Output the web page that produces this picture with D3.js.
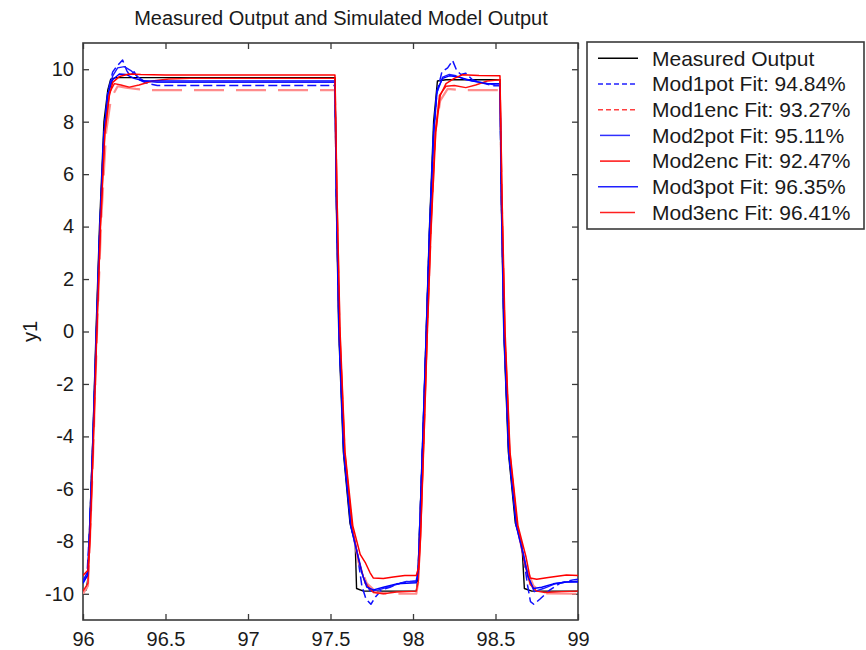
<!DOCTYPE html>
<html>
<head>
<meta charset="utf-8">
<script src="https://cdn.jsdelivr.net/npm/d3@7"></script>
<style>
  html, body { margin: 0; padding: 0; background: #fff; }
  svg text { font-family: "Liberation Sans", Arial, sans-serif; fill: #1a1a1a; }
</style>
</head>
<body>
<svg id="chart" width="866" height="650"></svg>
<script>
// Axis ticks
const xTicks = [96, 96.5, 97, 97.5, 98, 98.5, 99];
const yTicks = [-10, -8, -6, -4, -2, 0, 2, 4, 6, 8, 10];

// Series names and fit percentages
const seriesNames = ["Measured Output", "Mod1pot", "Mod1enc", "Mod2pot", "Mod2enc", "Mod3pot", "Mod3enc"];
const fitValues = [null, 94.84, 93.27, 95.11, 92.47, 96.35, 96.41];

// [time, y1] samples for each output
const measured = [
  [96.000,-9.90],[96.020,-9.85],[96.030,-9.40],[96.037,-8.00],[96.060,-4.00],[96.079,0.00],[96.100,4.00],[96.127,8.00],[96.150,9.20],[96.168,9.62],[96.200,9.68],
  [97.527,9.68],[97.535,5.00],[97.550,0.00],[97.578,-4.60],[97.618,-7.30],[97.650,-8.10],[97.658,-9.80],[97.700,-9.90],
  [98.020,-9.90],[98.030,-9.40],[98.037,-8.00],[98.060,-4.00],[98.080,0.00],[98.100,4.00],[98.125,8.00],[98.140,9.00],[98.148,9.55],[98.200,9.60],
  [98.527,9.60],[98.535,5.00],[98.550,0.00],[98.578,-4.60],[98.620,-7.30],[98.660,-8.10],[98.675,-9.80],[98.720,-9.90],[99.000,-9.90]
];
const mod1pot = [
  [96.000,-9.50],[96.025,-9.20],[96.040,-7.50],[96.060,-4.20],[96.080,-0.30],[96.100,3.60],[96.125,7.40],[96.150,9.10],[96.180,9.90],[96.210,10.15],[96.240,10.35],[96.265,9.95],[96.285,9.75],[96.310,9.90],[96.340,9.60],[96.380,9.48],[96.450,9.38],
  [97.527,9.38],[97.536,5.00],[97.552,0.00],[97.581,-4.60],[97.625,-7.40],[97.665,-8.60],[97.690,-9.70],[97.715,-10.20],[97.745,-10.40],[97.775,-10.10],[97.810,-9.85],[97.860,-9.75],[97.930,-9.58],[98.020,-9.50],
  [98.032,-9.00],[98.040,-7.50],[98.060,-4.00],[98.080,-0.20],[98.100,3.80],[98.125,7.60],[98.145,9.10],[98.175,9.90],[98.210,10.05],[98.240,10.33],[98.265,9.95],[98.290,9.80],[98.320,9.85],[98.360,9.60],[98.410,9.49],[98.490,9.37],[98.527,9.37],
  [98.536,5.00],[98.552,0.00],[98.581,-4.60],[98.628,-7.40],[98.670,-8.60],[98.695,-9.70],[98.712,-10.30],[98.732,-10.40],[98.770,-10.20],[98.830,-9.85],[98.890,-9.60],[98.970,-9.47],[99.000,-9.45]
];
const mod1enc = [
  [96.000,-10.00],[96.030,-9.70],[96.045,-7.50],[96.065,-4.00],[96.085,0.00],[96.110,4.20],[96.140,7.60],[96.170,8.90],[96.210,9.35],[96.260,9.30],[96.320,9.25],[96.400,9.20],
  [97.527,9.20],[97.538,5.00],[97.555,0.00],[97.585,-4.60],[97.628,-7.40],[97.670,-8.80],[97.720,-9.60],[97.780,-9.95],[97.850,-10.00],[98.020,-10.00],
  [98.033,-9.50],[98.043,-7.50],[98.065,-4.00],[98.085,0.00],[98.110,4.20],[98.135,7.60],[98.165,8.80],[98.210,9.25],[98.300,9.20],[98.527,9.20],
  [98.538,5.00],[98.555,0.00],[98.585,-4.60],[98.630,-7.40],[98.680,-8.90],[98.730,-9.70],[98.790,-9.98],[99.000,-10.00]
];
const mod2pot = [
  [96.000,-9.55],[96.028,-9.30],[96.040,-7.80],[96.060,-4.30],[96.080,-0.40],[96.100,3.50],[96.125,7.30],[96.150,9.00],[96.180,9.75],[96.210,10.05],[96.250,10.10],[96.290,9.95],[96.330,9.72],[96.370,9.55],[96.450,9.50],
  [97.527,9.50],[97.536,5.00],[97.552,0.00],[97.581,-4.60],[97.625,-7.40],[97.665,-8.50],[97.700,-9.40],[97.740,-9.90],[97.790,-9.85],[97.860,-9.73],[97.960,-9.53],[98.020,-9.55],
  [98.032,-9.10],[98.040,-7.80],[98.060,-4.10],[98.080,-0.30],[98.100,3.70],[98.125,7.50],[98.145,9.10],[98.180,9.70],[98.220,9.80],[98.260,9.75],[98.320,9.60],[98.410,9.50],[98.500,9.40],[98.527,9.40],
  [98.536,5.00],[98.552,0.00],[98.581,-4.60],[98.628,-7.40],[98.670,-8.50],[98.700,-9.40],[98.735,-9.92],[98.790,-9.80],[98.860,-9.62],[98.930,-9.55],[99.000,-9.52]
];
const mod2enc = [
  [96.000,-9.90],[96.030,-9.60],[96.042,-8.00],[96.062,-4.20],[96.082,-0.20],[96.105,4.00],[96.132,7.60],[96.160,9.10],[96.190,9.45],[96.230,9.40],[96.280,9.32],[96.340,9.40],[96.420,9.55],[96.520,9.63],[96.650,9.65],
  [97.527,9.65],[97.539,5.00],[97.556,0.00],[97.586,-4.60],[97.630,-7.40],[97.670,-8.70],[97.710,-9.60],[97.760,-9.95],[97.820,-10.00],[97.900,-9.93],[98.020,-9.90],
  [98.033,-9.50],[98.045,-8.00],[98.065,-4.20],[98.085,-0.20],[98.108,4.00],[98.135,7.60],[98.160,9.00],[98.200,9.35],[98.250,9.38],[98.320,9.30],[98.380,9.40],[98.450,9.55],[98.527,9.60],
  [98.539,5.00],[98.556,0.00],[98.586,-4.60],[98.632,-7.40],[98.675,-8.80],[98.710,-9.65],[98.750,-9.90],[98.800,-9.95],[98.900,-9.92],[99.000,-9.90]
];
const mod3pot = [
  [96.000,-9.60],[96.027,-9.30],[96.039,-7.80],[96.059,-4.20],[96.079,-0.30],[96.100,3.70],[96.126,7.50],[96.150,9.05],[96.180,9.60],[96.220,9.82],[96.260,9.80],[96.310,9.65],[96.370,9.55],[96.500,9.55],
  [97.527,9.55],[97.536,5.00],[97.551,0.00],[97.580,-4.60],[97.622,-7.40],[97.660,-8.40],[97.690,-9.20],[97.720,-9.75],[97.760,-9.85],[97.820,-9.75],[97.900,-9.62],[98.020,-9.58],
  [98.031,-9.10],[98.039,-7.80],[98.059,-4.00],[98.079,-0.20],[98.100,3.80],[98.125,7.60],[98.145,9.20],[98.180,9.65],[98.220,9.75],[98.280,9.70],[98.360,9.55],[98.450,9.45],[98.527,9.45],
  [98.536,5.00],[98.551,0.00],[98.580,-4.60],[98.625,-7.40],[98.665,-8.40],[98.695,-9.30],[98.730,-9.80],[98.780,-9.75],[98.850,-9.62],[98.930,-9.55],[99.000,-9.55]
];
const mod3enc = [
  [96.000,-9.30],[96.030,-9.10],[96.043,-7.80],[96.063,-4.20],[96.083,-0.20],[96.106,4.00],[96.133,7.60],[96.160,9.00],[96.180,9.50],[96.220,9.72],[96.280,9.82],[96.350,9.80],[96.500,9.78],
  [97.527,9.78],[97.540,5.00],[97.558,0.00],[97.588,-4.60],[97.635,-7.40],[97.680,-8.50],[97.710,-8.80],[97.740,-9.20],[97.760,-9.40],[97.820,-9.42],[97.880,-9.36],[97.950,-9.30],[98.020,-9.30],
  [98.034,-9.00],[98.046,-7.80],[98.066,-4.20],[98.086,-0.20],[98.110,4.00],[98.138,7.60],[98.165,9.00],[98.200,9.45],[98.250,9.65],[98.300,9.79],[98.400,9.76],[98.527,9.75],
  [98.540,5.00],[98.558,0.00],[98.588,-4.60],[98.636,-7.40],[98.685,-8.60],[98.710,-9.40],[98.750,-9.45],[98.820,-9.38],[98.930,-9.28],[99.000,-9.30]
];

const seriesData = [measured, mod1pot, mod1enc, mod2pot, mod2enc, mod3pot, mod3enc];

// Line styles: plot stroke, plot dash, legend stroke, legend dash, legend sample extent
const styles = [
  { color: "#000000", width: 1.4, dash: null,     lColor: "#000000", lDash: null,  x0: 598, x1: 638 },
  { color: "#1010ff", width: 1.5, dash: "9,4",    lColor: "#2020ff", lDash: "5,3", x0: 598, x1: 636 },
  { color: "#ff8c8c", width: 2.2, dash: "30,12",  lColor: "#ff4040", lDash: "5,3", x0: 598, x1: 636 },
  { color: "#1a1aff", width: 1.4, dash: null,     lColor: "#3030ff", lDash: null,  x0: 600, x1: 630 },
  { color: "#ff1010", width: 1.4, dash: null,     lColor: "#ff1010", lDash: null,  x0: 600, x1: 630 },
  { color: "#0000ff", width: 1.4, dash: null,     lColor: "#2020ff", lDash: null,  x0: 598, x1: 638 },
  { color: "#ff0000", width: 1.5, dash: null,     lColor: "#ff2020", lDash: null,  x0: 600, x1: 635 }
];

const svg = d3.select("#chart");
const plot = { left: 83, right: 578, top: 43, bottom: 620 };

const x = d3.scaleLinear().domain([96, 99]).range([plot.left, plot.right]);
const y = d3.scaleLinear().domain([-11, 11]).range([plot.bottom, plot.top]);

svg.append("defs").append("clipPath").attr("id", "plotClip")
  .append("rect")
  .attr("x", plot.left).attr("y", plot.top)
  .attr("width", plot.right - plot.left).attr("height", plot.bottom - plot.top);

// Title
svg.append("text")
  .attr("x", 341).attr("y", 25)
  .attr("text-anchor", "middle")
  .style("font-size", "20px")
  .text("Measured Output and Simulated Model Output");

// Y axis label
svg.append("text")
  .attr("transform", `translate(37,${(plot.top + plot.bottom) / 2}) rotate(-90)`)
  .attr("text-anchor", "middle")
  .style("font-size", "20px")
  .text("y1");

// Axes with inward ticks on all four sides
const axisColor = "#3a3a3a";
function styleAxis(g) {
  g.select(".domain").remove();
  g.selectAll(".tick line").attr("stroke", axisColor).attr("stroke-width", 1.3);
  g.selectAll(".tick text").style("font-size", "20px").attr("fill", "#1a1a1a");
}
const fmt = d => String(d);

svg.append("g").attr("transform", `translate(0,${plot.bottom})`)
  .call(d3.axisBottom(x).tickValues(xTicks).tickFormat(fmt).tickSizeInner(-6).tickSizeOuter(0).tickPadding(12))
  .call(styleAxis);
svg.append("g").attr("transform", `translate(0,${plot.top})`)
  .call(d3.axisTop(x).tickValues(xTicks).tickFormat("").tickSizeInner(-6).tickSizeOuter(0))
  .call(styleAxis);
svg.append("g").attr("transform", `translate(${plot.left},0)`)
  .call(d3.axisLeft(y).tickValues(yTicks).tickFormat(fmt).tickSizeInner(-6).tickSizeOuter(0).tickPadding(9))
  .call(styleAxis);
svg.append("g").attr("transform", `translate(${plot.right},0)`)
  .call(d3.axisRight(y).tickValues(yTicks).tickFormat("").tickSizeInner(-6).tickSizeOuter(0))
  .call(styleAxis);

// Plot box
svg.append("rect")
  .attr("x", plot.left).attr("y", plot.top)
  .attr("width", plot.right - plot.left).attr("height", plot.bottom - plot.top)
  .attr("fill", "none").attr("stroke", axisColor).attr("stroke-width", 1.6);

// Output lines
const line = d3.line().x(d => x(d[0])).y(d => y(d[1]));
const linesG = svg.append("g").attr("clip-path", "url(#plotClip)");
seriesData.forEach((data, i) => {
  const s = styles[i];
  linesG.append("path")
    .datum(data)
    .attr("d", line)
    .attr("fill", "none")
    .attr("stroke", s.color)
    .attr("stroke-width", s.width)
    .attr("stroke-linejoin", "round")
    .attr("stroke-dasharray", s.dash);
});

// Legend
const legend = { left: 587, top: 42, right: 864, bottom: 229, row0: 58.3, rowStep: 25.7 };
svg.append("rect")
  .attr("x", legend.left).attr("y", legend.top)
  .attr("width", legend.right - legend.left).attr("height", legend.bottom - legend.top)
  .attr("fill", "#fff").attr("stroke", axisColor).attr("stroke-width", 1.6);

seriesNames.forEach((name, i) => {
  const s = styles[i];
  const cy = legend.row0 + i * legend.rowStep;
  svg.append("line")
    .attr("x1", s.x0).attr("x2", s.x1).attr("y1", cy).attr("y2", cy)
    .attr("stroke", s.lColor).attr("stroke-width", 1.5)
    .attr("stroke-dasharray", s.lDash);
  const label = fitValues[i] === null ? name : `${name} Fit: ${fitValues[i].toFixed(2)}%`;
  svg.append("text")
    .attr("x", 652).attr("y", cy)
    .attr("dy", "0.35em")
    .style("font-size", "21px")
    .text(label);
});
</script>
</body>
</html>
